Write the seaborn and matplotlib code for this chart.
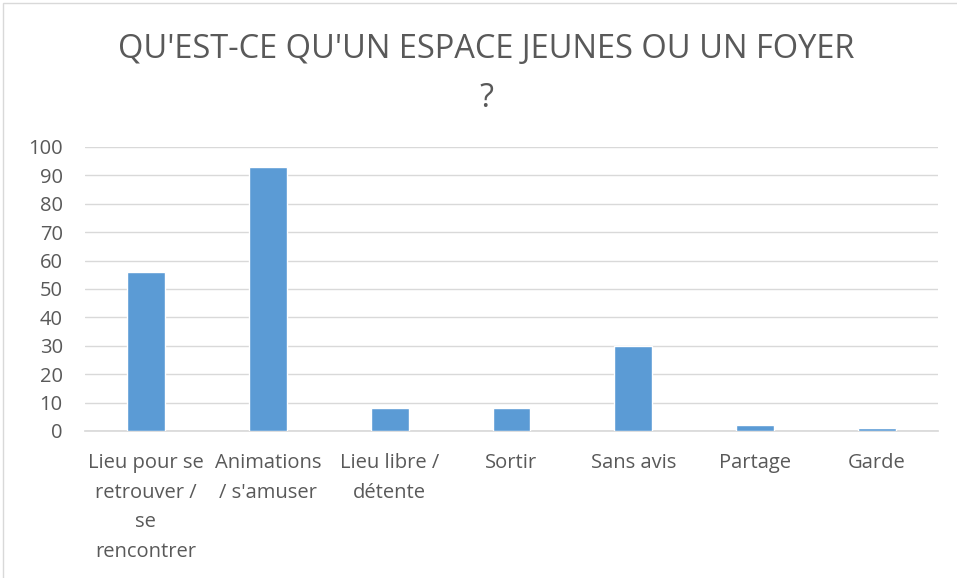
import pandas as pd
import matplotlib.pyplot as plt
import seaborn as sns

categories = ["Lieu pour se\nretrouver /\nse\nrencontrer", "Animations\n/ s'amuser",
              "Lieu libre /\ndétente", "Sortir", "Sans avis", "Partage", "Garde"]
values = [56, 93, 8, 8, 30, 2, 1]
y_ticks = list(range(0, 101, 10))

sns.set_theme(style="white")
plt.rcParams['font.family'] = ['Open Sans', 'DejaVu Sans']

df = pd.DataFrame({'cat': categories, 'val': values})
grey = '#595959'

fig = plt.figure(figsize=(9.57, 5.78), dpi=100)
ax = fig.add_axes([85 / 957, 1 - 431 / 578, 853 / 957, 284 / 578])

sns.barplot(data=df, x='cat', y='val', color='#5b9bd5', width=0.31,
            saturation=1, ax=ax, zorder=3)

ax.set_ylim(0, 100)
ax.set_yticks(y_ticks)
ax.yaxis.grid(True, color='#d9d9d9', linewidth=1, zorder=0)
ax.set_xlabel('')
ax.set_ylabel('')
for s in ['top', 'right', 'left']:
    ax.spines[s].set_visible(False)
ax.spines['bottom'].set_color('#d9d9d9')
ax.tick_params(axis='both', length=0, labelsize=14.5, colors=grey)
ax.tick_params(axis='x', pad=16)
ax.tick_params(axis='y', pad=16)
for lbl in ax.get_xticklabels():
    lbl.set_linespacing(1.64)
    lbl.set_verticalalignment('top')

fig.text(0.508, 1 - 33 / 578, "QU'EST-CE QU'UN ESPACE JEUNES OU UN FOYER\n?",
         ha='center', va='top', fontsize=23.5, color=grey, linespacing=1.63)

# light chart border
fig.patches.append(plt.Rectangle((3 / 957, -0.01), 1.1, 1 - 3 / 578 + 0.01,
                                 transform=fig.transFigure, fill=False,
                                 edgecolor='#d9d9d9', linewidth=1))

fig.savefig('out.png', dpi=100)
